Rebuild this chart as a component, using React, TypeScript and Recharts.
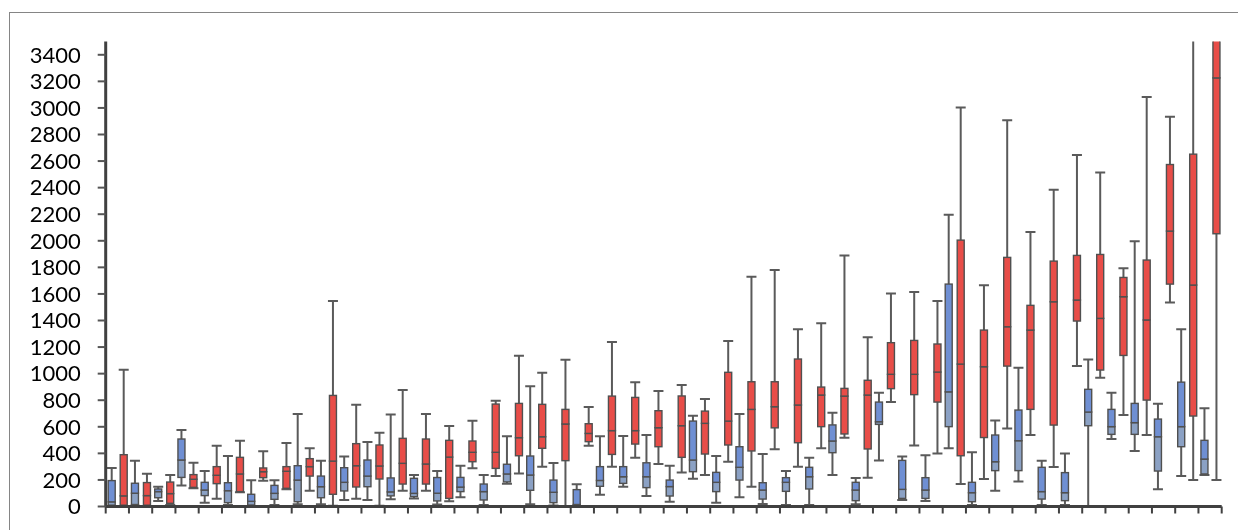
import React from 'react';
import { ComposedChart, Bar, XAxis, YAxis } from 'recharts';

const categories = ['1','2','3','4','5','6','7','8','9','10','11','12','13','14','15','16','17','18','19','20','21','22','23','24','25','26','27','28','29','30','31','32','33','34','35','36','37','38','39','40','41','42','43','44','45','46','47','48'];

const yTicks = [0, 200, 400, 600, 800, 1000, 1200, 1400, 1600, 1800, 2000, 2200, 2400, 2600, 2800, 3000, 3200, 3400];

// Blue series (five-number summaries)
const blueLow =    [0, 5, 41, 159, 29, 11, 0, 11, 16, 16, 49, 49, 55, 61, 15, 69, 11, 172, 16, 8, 0, 89, 149, 79, 36, 209, 29, 69, 19, 11, 11, 237, 16, 347, 49, 41, 438, 11, 119, 189, 11, 11, 0, 508, 418, 129, 229, 237];
const blueQ1 =     [10, 15, 66, 219, 82, 29, 11, 54, 36, 66, 117, 149, 80, 74, 42, 112, 49, 185, 122, 29, 5, 152, 174, 142, 79, 262, 112, 199, 56, 114, 132, 405, 44, 618, 61, 61, 601, 36, 270, 270, 56, 44, 608, 543, 543, 267, 450, 245];
const blueMedian = [35, 100, 112, 350, 124, 119, 39, 99, 199, 149, 182, 229, 110, 99, 100, 146, 112, 245, 237, 107, 15, 196, 224, 224, 150, 350, 182, 295, 124, 182, 224, 493, 124, 638, 129, 124, 863, 104, 337, 495, 112, 104, 711, 601, 631, 525, 601, 357];
const blueQ3 =     [195, 175, 132, 508, 182, 179, 92, 159, 307, 229, 292, 350, 215, 212, 218, 219, 169, 318, 380, 199, 127, 300, 300, 329, 199, 643, 257, 450, 179, 217, 295, 614, 182, 786, 347, 217, 1674, 182, 538, 726, 295, 255, 882, 731, 776, 658, 936, 498];
const blueHigh =   [290, 345, 149, 576, 267, 380, 197, 197, 696, 345, 377, 485, 693, 237, 267, 307, 237, 528, 906, 328, 168, 528, 530, 538, 307, 683, 380, 696, 395, 267, 367, 706, 214, 856, 377, 385, 2196, 408, 648, 1045, 345, 398, 1107, 856, 1997, 774, 1335, 739];

// Red series (five-number summaries)
const redLow =    [0, 0, 11, 137, 59, 107, 194, 129, 119, 5, 59, 5, 119, 119, 40, 287, 229, 249, 300, 0, 458, 300, 367, 320, 255, 237, 337, 149, 430, 300, 438, 518, 217, 786, 460, 398, 169, 207, 588, 538, 297, 1057, 970, 688, 538, 1536, 199, 199];
const redQ1 =     [10, 10, 24, 144, 172, 112, 217, 137, 229, 92, 147, 207, 169, 169, 61, 337, 287, 382, 438, 345, 488, 392, 470, 450, 370, 395, 463, 418, 592, 480, 601, 546, 433, 887, 842, 786, 382, 519, 1057, 731, 613, 1396, 1027, 1137, 801, 1674, 681, 2053];
const redMedian = [80, 82, 97, 205, 235, 245, 262, 265, 300, 342, 307, 305, 325, 320, 372, 408, 408, 518, 525, 621, 550, 571, 571, 593, 608, 626, 643, 731, 751, 764, 839, 831, 839, 995, 995, 1012, 1072, 1052, 1353, 1328, 1541, 1554, 1416, 1579, 1404, 2073, 1667, 3226];
const redQ3 =     [390, 180, 184, 240, 300, 370, 290, 300, 360, 836, 473, 463, 513, 508, 498, 493, 771, 776, 769, 731, 623, 831, 821, 721, 832, 718, 1010, 939, 939, 1110, 899, 889, 950, 1233, 1250, 1223, 2005, 1328, 1875, 1514, 1847, 1890, 1897, 1724, 1855, 2574, 2652, 3750];
const redHigh =   [1030, 247, 237, 330, 458, 495, 415, 478, 438, 1546, 766, 556, 876, 696, 606, 646, 796, 1135, 1007, 1105, 749, 1238, 936, 869, 914, 809, 1245, 1730, 1780, 1335, 1379, 1890, 1273, 1604, 1614, 1546, 3003, 1666, 2908, 2066, 2384, 2645, 2514, 1794, 3083, 2933, 3700, 4000];

type Five = { low: number; q1: number; med: number; q3: number; high: number };

const data = categories.map((name, i) => ({
  name,
  blueRange: [blueLow[i], blueHigh[i]],
  redRange: [redLow[i], redHigh[i]],
  blue: { low: blueLow[i], q1: blueQ1[i], med: blueMedian[i], q3: blueQ3[i], high: blueHigh[i] } as Five,
  red: { low: redLow[i], q1: redQ1[i], med: redMedian[i], q3: redQ3[i], high: redHigh[i] } as Five,
}));

const WHISKER = '#5a5a5a';
const OUTLINE = '#505050';

const makeBoxShape = (key: 'blue' | 'red', upperFill: string, lowerFill: string) => (props: any) => {
  const { x, y, width, height, payload } = props;
  if (!payload || x == null || y == null) return <g />;
  const s: Five = payload[key];
  const top = Math.min(y, y + height);
  const bottom = Math.max(y, y + height);
  const span = s.high - s.low || 1;
  const py = (v: number) => top + ((bottom - top) * (s.high - v)) / span;
  const cx = x + width / 2;
  const bw = 7;
  const cap = 5;
  const yHigh = py(s.high);
  const yQ3 = py(s.q3);
  const yMed = py(s.med);
  const yQ1 = py(s.q1);
  const yLow = py(s.low);
  return (
    <g>
      <line x1={cx} x2={cx} y1={yHigh} y2={yQ3} stroke={WHISKER} strokeWidth={2} />
      <line x1={cx} x2={cx} y1={yQ1} y2={yLow} stroke={WHISKER} strokeWidth={2} />
      <line x1={cx - cap} x2={cx + cap} y1={yHigh} y2={yHigh} stroke={WHISKER} strokeWidth={2} />
      <line x1={cx - cap} x2={cx + cap} y1={yLow} y2={yLow} stroke={WHISKER} strokeWidth={2} />
      <rect x={cx - bw / 2} y={yMed} width={bw} height={Math.max(0, yQ1 - yMed)} fill={lowerFill} stroke={OUTLINE} strokeWidth={1.4} />
      <rect x={cx - bw / 2} y={yQ3} width={bw} height={Math.max(0, yMed - yQ3)} fill={upperFill} stroke={OUTLINE} strokeWidth={1.4} />
    </g>
  );
};

const blueShape = makeBoxShape('blue', '#6f8fd3', '#8ba1c4');
const redShape = makeBoxShape('red', '#e84d48', '#e84d48');

const BoundaryTick = (props: any) => {
  const { x, y, payload, index, visibleTicksCount, width } = props;
  const half = payload && payload.offset > 0 ? payload.offset : width / visibleTicksCount / 2;
  const left = x - half;
  return (
    <g>
      <line x1={left} x2={left} y1={y} y2={y + 7} stroke="#404040" strokeWidth={2} />
      {index === visibleTicksCount - 1 ? (
        <line x1={x + half} x2={x + half} y1={y} y2={y + 7} stroke="#404040" strokeWidth={2} />
      ) : null}
    </g>
  );
};

export default function App() {
  return (
    <div style={{ position: 'relative', width: 1222, height: 514 }}>
      <div
        style={{
          position: 'fixed',
          left: 9,
          top: 12,
          width: 1229,
          height: 518,
          borderTop: '1px solid #858585',
          borderLeft: '1px solid #858585',
          boxSizing: 'border-box',
        }}
      />
      <ComposedChart
        width={1222}
        height={514}
        data={data}
        margin={{ top: 33.5, right: 8.3, bottom: 0, left: 0 }}
        barGap={4}
        style={{ position: 'relative' }}
      >
        <XAxis
          dataKey="name"
          interval={0}
          height={15.5}
          tickSize={0}
          tickMargin={0}
          tickLine={false}
          axisLine={{ stroke: '#404040', strokeWidth: 3 }}
          tick={<BoundaryTick />}
        />
        <YAxis
          type="number"
          domain={[0, 3500]}
          ticks={yTicks}
          interval={0}
          allowDataOverflow
          width={97.7}
          tickSize={8}
          tickMargin={17}
          axisLine={{ stroke: '#404040', strokeWidth: 3 }}
          tickLine={{ stroke: '#555555', strokeWidth: 2 }}
          tick={{ fontSize: 22, fill: '#000000', fontFamily: 'Lato' }}
        />
        <Bar dataKey="blueRange" barSize={8} shape={blueShape} isAnimationActive={false} />
        <Bar dataKey="redRange" barSize={8} shape={redShape} isAnimationActive={false} />
      </ComposedChart>
    </div>
  );
}
